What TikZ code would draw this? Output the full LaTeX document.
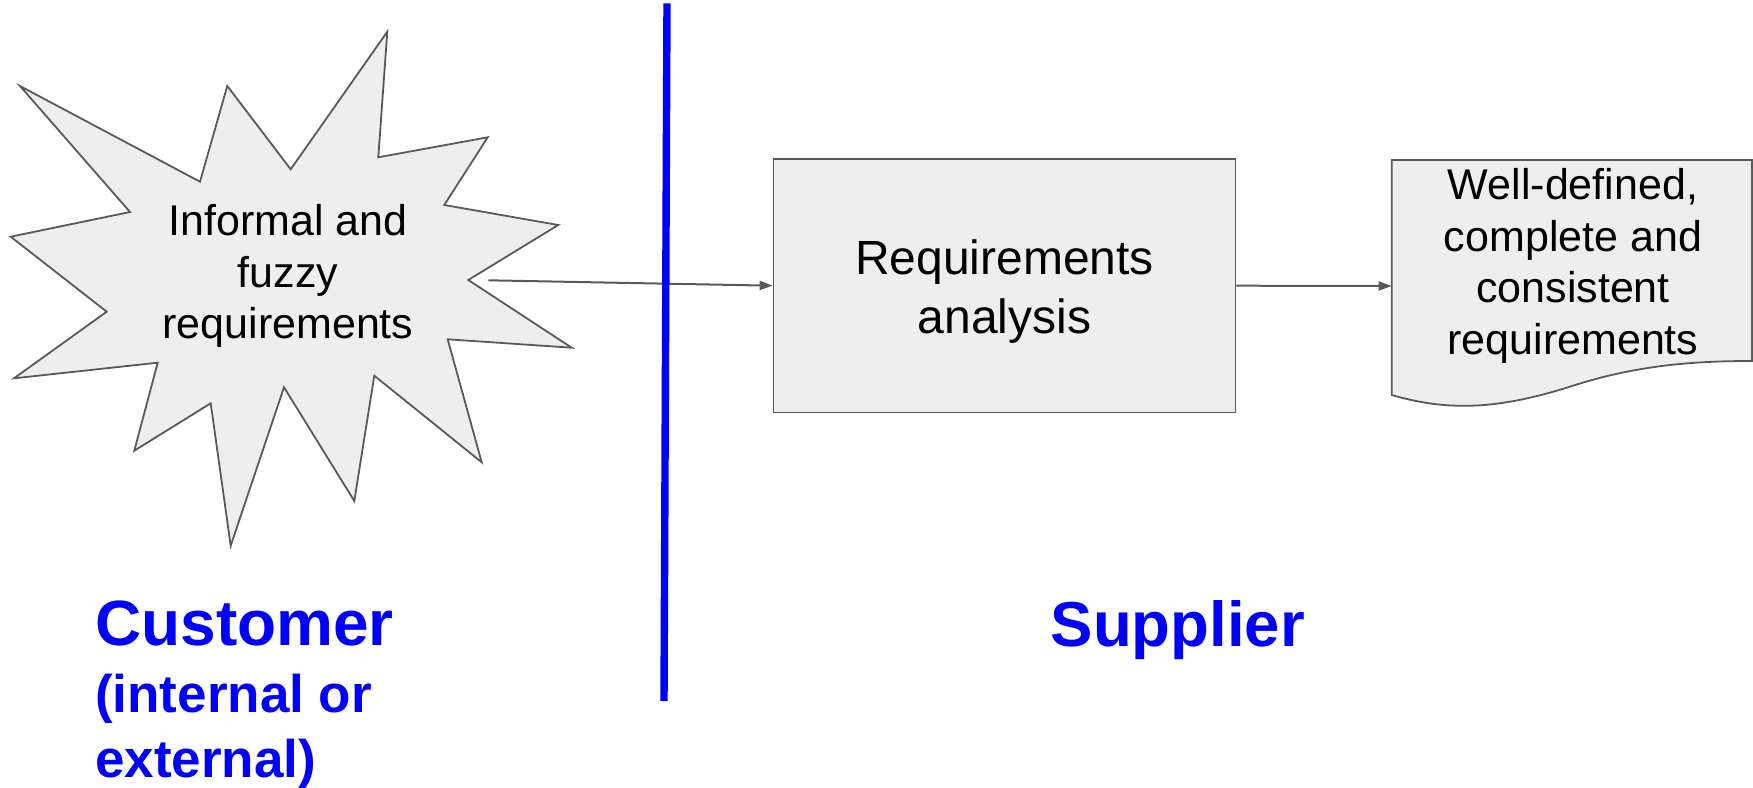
\documentclass[tikz,border=0pt]{standalone}
\usepackage{fontspec}
\setmainfont{Liberation Sans}
\usetikzlibrary{arrows.meta}
\definecolor{edgegray}{HTML}{595959}
\definecolor{shapefill}{HTML}{EEEEEE}
\definecolor{sideblue}{RGB}{0,0,255}
\tikzset{
  shapeline/.style={draw=edgegray, line width=1.8pt, fill=shapefill, line join=miter, miter limit=30},
  conn/.style={draw=edgegray, line width=2pt, -{Triangle[length=13pt,width=9pt]}},
  bodytext/.style={font=\fontsize{43}{51.6}\selectfont, align=center, inner sep=0pt},
  sidelabel/.style={text=sideblue, inner sep=0pt},
}
\begin{document}
\begin{tikzpicture}[x=1pt,y=-1pt]
\useasboundingbox (0,0) rectangle (1753,787);

% starburst
\draw[shapeline] (20,86) -- (200,181.7) -- (227.3,86) -- (290.7,169.3) -- (387.3,31.7)
  -- (378.3,157.3) -- (487.7,137.3) -- (444.3,205) -- (558.3,225) -- (468.3,280)
  -- (571.7,347.7) -- (447.7,339.3) -- (481.7,462.3) -- (374.3,375.7) -- (354.3,501)
  -- (284,387.3) -- (230.7,545.7) -- (210.7,403.3) -- (134.3,450.7) -- (157.7,362.7)
  -- (14,378.3) -- (106.7,311.7) -- (10.7,236.7) -- (130,212) -- cycle;
\node[bodytext] (fuzzy) at (288,276) {Informal and\\fuzzy\\requirements};
\coordinate (burstout) at (488.3,280.3);

% analysis box
\node[shapeline, minimum width=461.9pt, minimum height=253.7pt,
      label={[bodytext, font=\fontsize{48}{59}\selectfont, yshift=-6pt]center:Requirements\\analysis}]
      (ra) at (1004.5,285.7) {};

% document shape
\draw[shapeline] (1391.7,160) -- (1752,160) -- (1752,361)
  .. controls (1700,361) and (1640,364) .. (1572,386)
  .. controls (1500,409) and (1450,412) .. (1391.7,395) -- cycle;
\node[bodytext] (doc) at (1573,266) {Well-defined,\\complete and\\consistent\\requirements};
\coordinate (docin) at (1391.7,286);

% connectors
\draw[conn] (burstout) -- (ra.west);
\draw[conn] (ra.east) -- (docin);

% divider
\coordinate (divtop) at (667,3.3);
\coordinate (divbot) at (664,701);
\draw[sideblue, line width=7.4pt] (divtop) -- (divbot);

% side labels
\node[sidelabel, anchor=north west, align=left, font=\bfseries\fontsize{53}{64.5}\selectfont]
  (customer) at (95,601) {{\fontsize{64}{65}\selectfont Customer}\\[2.5pt](internal or\\external)};
\node[sidelabel, anchor=base west, font=\bfseries\fontsize{63.5}{65}\selectfont]
  (supplier) at (1050.5,646.7) {Supplier};
\end{tikzpicture}
\end{document}
